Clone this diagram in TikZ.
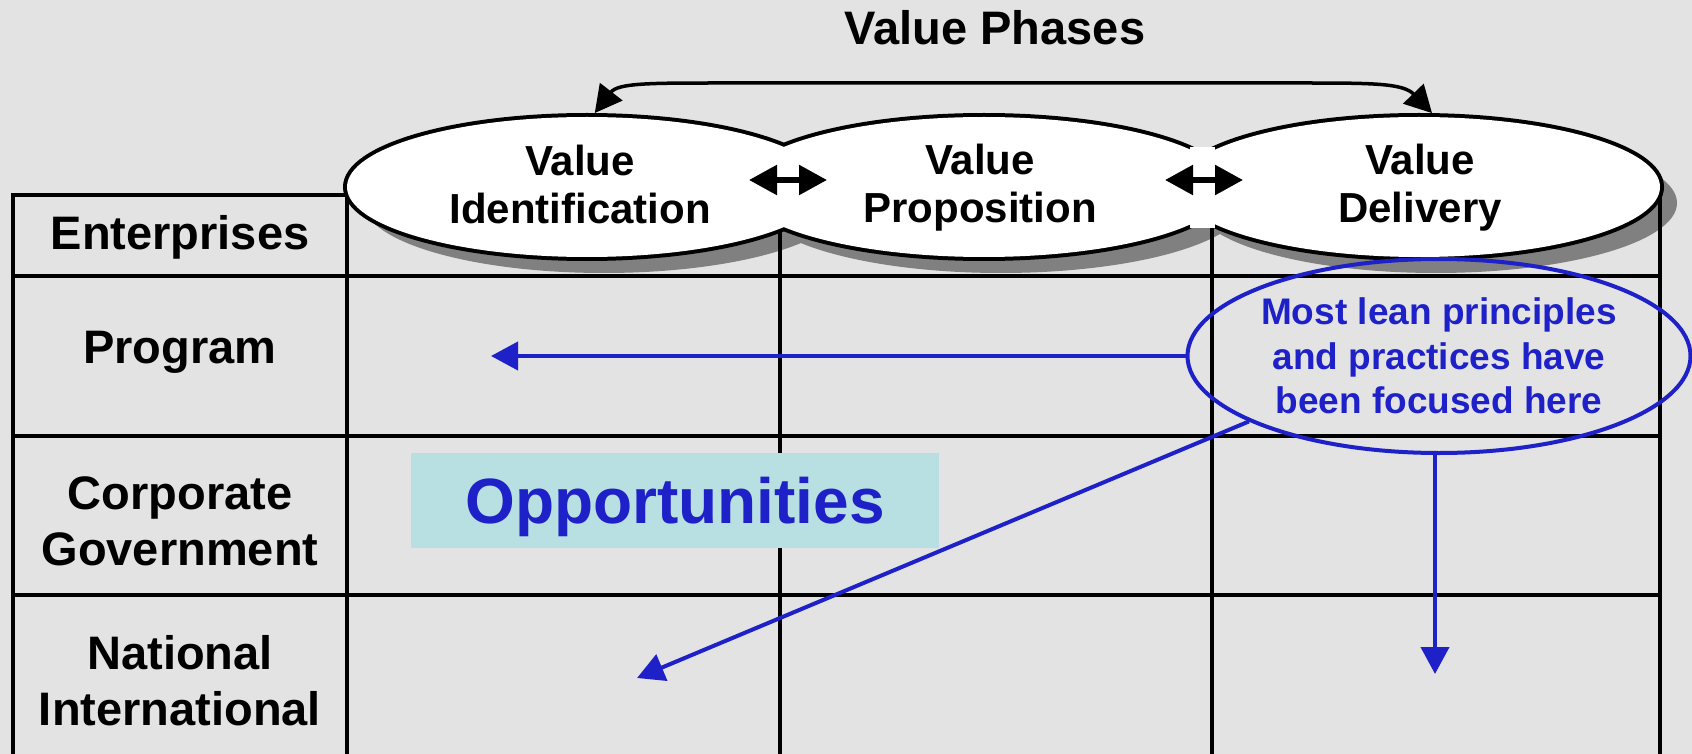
\documentclass[tikz,border=0pt]{standalone}
\usepackage{fontspec}
\setmainfont{Liberation Sans}
\usetikzlibrary{arrows.meta,shapes.geometric,calc}
\definecolor{paper}{RGB}{227,227,227}
\definecolor{inkblue}{RGB}{30,32,200}
\definecolor{boxcyan}{RGB}{184,223,226}
\definecolor{shadowgray}{RGB}{128,128,128}

\begin{document}
\begin{tikzpicture}[x=1pt,y=-1pt,
  grid/.style={line width=3.2pt, line cap=rect},
  rowlabel/.style={font=\fontsize{47}{56}\selectfont\bfseries, align=center, inner sep=0pt},
  phaselabel/.style={font=\fontsize{42}{48}\selectfont\bfseries, align=center, inner sep=0pt},
  phase/.style={ellipse, draw, line width=8pt, inner sep=0pt, minimum height=140pt},
  phasefill/.style={fill=white},
  phaselink/.style={line width=3.5pt, {Triangle[length=27pt,width=28pt]}-{Triangle[length=27pt,width=28pt]}},
  pairarrow/.style={line width=5.5pt, {Triangle[length=28pt,width=29pt]}-{Triangle[length=28pt,width=29pt]}},
  bluearrow/.style={draw=inkblue, line width=4pt, -{Triangle[length=27pt,width=28pt]}},
  callout/.style={ellipse, draw=inkblue, line width=4pt, inner sep=0pt,
    minimum width=486pt, minimum height=194pt, text=inkblue, align=center,
    font=\fontsize{37}{44.5}\selectfont\bfseries},
  oppbox/.style={fill=boxcyan, inner sep=0pt, minimum width=528pt, minimum height=95pt,
    text=inkblue, text depth=0pt, font=\fontsize{64}{70}\selectfont\bfseries}
]
% page
\useasboundingbox (0,0) rectangle (1692,754);
\fill[paper] (0,0) rectangle (1692,754);

% drop shadows of the three phase ellipses
\fill[shadowgray] (604,203) ellipse [x radius=240, y radius=70];
\fill[shadowgray] (1001,203) ellipse [x radius=244, y radius=70];
\fill[shadowgray] (1436,203) ellipse [x radius=241, y radius=70];

% table grid
\draw[grid] (13,195) -- (347,195);
\draw[grid] (13,195) -- (13,760);
\draw[grid] (347,195) -- (347,760);
\draw[grid] (780,195) -- (780,760);
\draw[grid] (1212,195) -- (1212,760);
\draw[grid] (1660,188) -- (1660,760);
\foreach \yy in {276,436,595} \draw[grid] (13,\yy) -- (1660,\yy);

% phase ellipses: thick outline, then white fill so only the outer contour stays
\node[phase, minimum width=480pt] (e1) at (587,187) {};
\node[phase, minimum width=488pt] (e2) at (984,187) {};
\node[phase, minimum width=482pt] (e3) at (1419,187) {};
\fill[phasefill] (e1.center) ellipse [x radius=240, y radius=70];
\fill[phasefill] (e2.center) ellipse [x radius=244, y radius=70];
\fill[phasefill] (e3.center) ellipse [x radius=241, y radius=70];
% white joint between the second and third ellipse
\fill[white] (1190,147) rectangle (1215,228);

% phase names
\node[phaselabel] (l1) at (580,184) {Value\\Identification};
\node[phaselabel] (l2) at (980,188) {Value\\Proposition};
\node[phaselabel] (l3) at (1420,188) {Value\\Delivery};

% two-way links between neighbouring phases
\coordinate (j1a) at (749,180);
\coordinate (j1b) at (827,180);
\coordinate (j2a) at (1165,180);
\coordinate (j2b) at (1243,180);
\draw[pairarrow] (j1a) -- (j1b);
\draw[pairarrow] (j2a) -- (j2b);

% loop from first to last phase
\draw[phaselink] (e1.84) .. controls (618,83) and (650,83) .. (720,83)
  -- (1301,83) .. controls (1371,83) and (1403,83) .. (e3.80);

% title
\node[font=\fontsize{47}{56}\selectfont\bfseries, inner sep=0pt] (title) at (995,28) {Value Phases};

% row headings
\node[rowlabel] (rent) at (180,237) {Enterprises};
\node[rowlabel] (rprog) at (180,352) {Program};
\node[rowlabel] (rcorp) at (180,521) {Corporate\\Government};
\node[rowlabel] (rnat) at (180,681) {National\\International};

% opportunities banner
\node[oppbox] (opp) at (675,500) {Opportunities};

% callout and its arrows
\node[callout] (focus) at (1439,356) {Most lean principles\\and practices have\\been focused here};
\coordinate (t1) at (491,356);
\coordinate (t2) at (637,678);
\coordinate (t3) at (1435,674);
\draw[bluearrow] (focus.west) -- (t1);
\draw[bluearrow] (focus.199) -- (t2);
\draw[bluearrow] (focus.south -| t3) -- (t3);
\end{tikzpicture}
\end{document}
